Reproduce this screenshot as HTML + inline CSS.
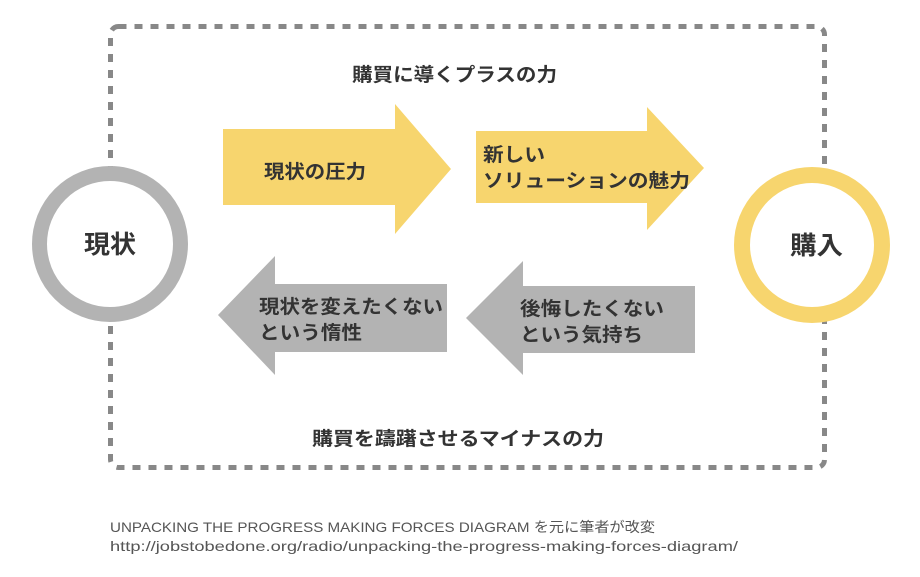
<!DOCTYPE html>
<html><head><meta charset="utf-8"><style>
html,body{margin:0;padding:0;background:#fff;}
svg{display:block;font-family:"Liberation Sans","Noto Sans CJK JP",sans-serif;}
.b{font-weight:bold;fill:#333;}
</style></head><body>
<svg width="920" height="577" viewBox="0 0 920 577" xmlns="http://www.w3.org/2000/svg">
<rect x="110.5" y="26.5" width="714" height="441" rx="8" fill="none" stroke="#888" stroke-width="5" stroke-dasharray="8 8"/>
<circle cx="110" cy="244" r="70.5" fill="#fff" stroke="#b3b3b3" stroke-width="15"/>
<circle cx="812" cy="245" r="70" fill="#fff" stroke="#f7d56e" stroke-width="16"/>
<polygon points="223,129 395,129 395,104 451,169 395,234 395,205 223,205" fill="#f7d56e"/>
<polygon points="476,131 647,131 647,107 704,168 647,230 647,203 476,203" fill="#f7d56e"/>
<polygon points="447,284 275,284 275,256 218,315 275,375 275,352 447,352" fill="#b3b3b3"/>
<polygon points="695,286 523,286 523,261 466,318 523,375 523,353 695,353" fill="#b3b3b3"/>
<text class="b" x="352" y="81" font-size="19" textLength="205" lengthAdjust="spacingAndGlyphs">購買に導くプラスの力</text>
<text class="b" x="312" y="445" font-size="19" textLength="292" lengthAdjust="spacingAndGlyphs">購買を躊躇させるマイナスの力</text>
<text class="b" x="84" y="253" font-size="25" textLength="52" lengthAdjust="spacingAndGlyphs">現状</text>
<text class="b" x="790" y="254" font-size="25" textLength="53" lengthAdjust="spacingAndGlyphs">購入</text>
<text class="b" x="264" y="178" font-size="19" textLength="102" lengthAdjust="spacingAndGlyphs">現状の圧力</text>
<text class="b" x="483" y="161" font-size="19" textLength="62" lengthAdjust="spacingAndGlyphs">新しい</text>
<text class="b" x="483" y="187" font-size="19" textLength="207" lengthAdjust="spacingAndGlyphs">ソリューションの魅力</text>
<text class="b" x="259" y="313" font-size="19" textLength="184" lengthAdjust="spacingAndGlyphs">現状を変えたくない</text>
<text class="b" x="259" y="339" font-size="19" textLength="103" lengthAdjust="spacingAndGlyphs">という惰性</text>
<text class="b" x="520" y="315" font-size="19" textLength="144" lengthAdjust="spacingAndGlyphs">後悔したくない</text>
<text class="b" x="520" y="341" font-size="19" textLength="123" lengthAdjust="spacingAndGlyphs">という気持ち</text>
<text x="110" y="532" font-size="14" fill="#555" textLength="545" lengthAdjust="spacingAndGlyphs">UNPACKING THE PROGRESS MAKING FORCES DIAGRAM を元に筆者が改変</text>
<text x="110" y="551" font-size="14" fill="#555" textLength="628" lengthAdjust="spacingAndGlyphs">http://jobstobedone.org/radio/unpacking-the-progress-making-forces-diagram/</text>
</svg>
</body></html>
